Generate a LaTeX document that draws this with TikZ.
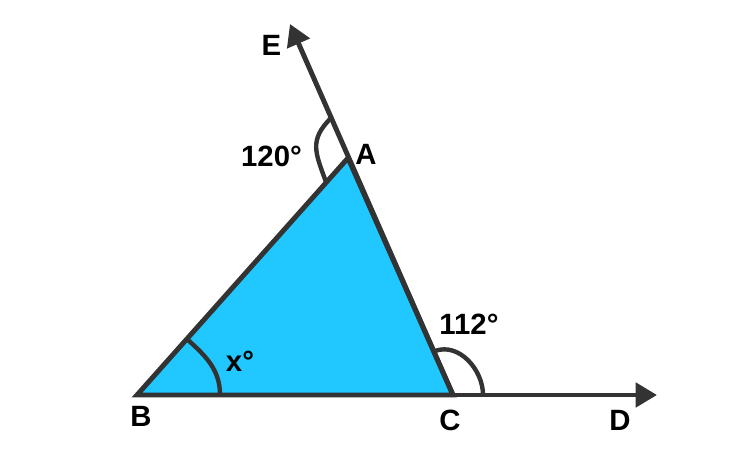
\documentclass[tikz,border=0pt]{standalone}
\usepackage{fontspec}
\setmainfont{Liberation Sans}
\usetikzlibrary{arrows.meta}
\definecolor{ink}{HTML}{333333}
\definecolor{tri}{RGB}{32,200,255}
\begin{document}
\begin{tikzpicture}[x=0.75pt,y=0.75pt,
  seg/.style={draw=ink,line width=3.7pt},
  arrowline/.style={seg,-{Triangle[length=16pt,width=18pt]}},
  anglemark/.style={draw=ink,line width=3.3pt},
  lbl/.style={font=\fontsize{22}{26}\selectfont\bfseries,text=black,inner sep=0pt}]
\useasboundingbox (0,0) rectangle (750,475);
% vertices
\coordinate (A) at (348,317);
\coordinate (B) at (137,80);
\coordinate (C) at (453,80);
\coordinate (E) at (290,451);
\coordinate (D) at (657,80);
% angle mark end points
\coordinate (a1) at (331,357);
\coordinate (a2) at (326,293);
\coordinate (b1) at (188,135);
\coordinate (b2) at (220,80);
\coordinate (c1) at (435,124);
\coordinate (c2) at (483,80);
% triangle
\draw[seg,fill=tri,line join=miter] (B) -- (A) -- (C) -- cycle;
% extended sides
\draw[arrowline] (C) -- (D);
\draw[arrowline] (C) -- (E);
% angle marks
\draw[anglemark] (a1) to[out=225,in=110,looseness=1.25] (a2);
\draw[anglemark] (b1) to[out=-42,in=90] (b2);
\draw[anglemark] (c1) to[out=20,in=90] (c2);
% labels
\node[lbl] (lE) at (271.5,430) {E};
\node[lbl] (lA) at (366,320.5) {A};
\node[lbl] (lB) at (141,59) {B};
\node[lbl] (lC) at (450,55) {C};
\node[lbl] (lD) at (620,55) {D};
\node[lbl] (l120) at (271.5,319) {120°};
\node[lbl] (l112) at (469,151) {112°};
\node[lbl] (lx) at (240,114) {x°};
\end{tikzpicture}
\end{document}
